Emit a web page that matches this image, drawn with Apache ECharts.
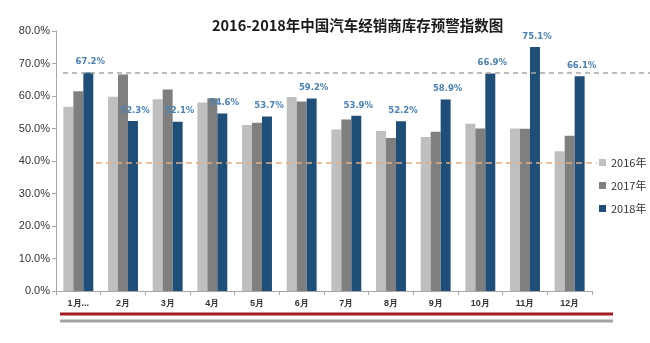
<!DOCTYPE html>
<html><head><meta charset="utf-8">
<script src="https://cdn.jsdelivr.net/npm/echarts@6/dist/echarts.min.js"></script>
<style>html,body{margin:0;padding:0;background:#fff}#c{width:650px;height:343px}</style>
</head><body><div id="c"></div>
<script>
var months = ['1月','2月','3月','4月','5月','6月','7月','8月','9月','10月','11月','12月'];
var tickLabels = ['1月...','2月','3月','4月','5月','6月','7月','8月','9月','10月','11月','12月'];
var yTicks = [0,10,20,30,40,50,60,70,80];
var s2016 = [56.7,59.8,59.0,58.0,51.1,59.7,49.7,49.2,47.4,51.5,50.0,43.0];
var s2017 = [61.5,66.6,62.0,59.3,51.8,58.3,52.8,47.1,49.0,50.0,49.9,47.8];
var s2018 = [67.2,52.3,52.1,54.6,53.7,59.2,53.9,52.2,58.9,66.9,75.1,66.1];
var warnHigh = 67.2;
var warnLow = 39.5;

var chart = echarts.init(document.getElementById('c'));
var gTop = 31, gBottom = 52;
chart.setOption({
  animation:false,
  title:{text:'2016-2018年中国汽车经销商库存预警指数图', left:207, top:13,
    textStyle:{fontSize:14.5, fontWeight:'bold', color:'#1a1a1a', fontFamily:'"Noto Sans CJK SC", sans-serif'}},
  legend:{orient:'vertical', left:594, top:152, itemWidth:7, itemHeight:7, itemGap:12,
    icon:'rect', textStyle:{fontSize:11, color:'#333', fontFamily:'"Noto Sans CJK SC", sans-serif'},
    data:['2016年','2017年','2018年']},
  grid:[
    {left:56, right:58, top:gTop, bottom:gBottom},
    {left:63, right:0, top:gTop, bottom:gBottom},
    {left:96, right:53, top:gTop, bottom:gBottom}
  ],
  xAxis:[
    {type:'category', gridIndex:0, data:months,
      axisLine:{lineStyle:{color:'#a6a6a6'}},
      axisTick:{show:true, length:4, lineStyle:{color:'#a6a6a6'}},
      axisLabel:{fontSize:9, fontWeight:'bold', color:'#333', margin:8,
        formatter:function(v,i){return tickLabels[i];}}},
    {type:'value', gridIndex:1, show:false, min:0, max:1},
    {type:'value', gridIndex:2, show:false, min:0, max:1}
  ],
  yAxis:[
    {type:'value', gridIndex:0, min:yTicks[0], max:yTicks[yTicks.length-1], interval:10,
      axisLine:{show:true, lineStyle:{color:'#a6a6a6'}},
      axisTick:{show:true, length:4, lineStyle:{color:'#a6a6a6'}},
      splitLine:{show:false},
      axisLabel:{fontSize:11, color:'#333', margin:6, formatter:function(v){return v.toFixed(1)+'%';}}},
    {type:'value', gridIndex:1, show:false, min:0, max:80},
    {type:'value', gridIndex:2, show:false, min:0, max:80}
  ],
  series:[
    {name:'2016年', type:'bar', data:s2016, barGap:'0%', barCategoryGap:'33%', itemStyle:{color:'#bfbfbf'}},
    {name:'2017年', type:'bar', data:s2017, barGap:'0%', barCategoryGap:'33%', itemStyle:{color:'#7f7f7f'}},
    {name:'2018年', type:'bar', data:s2018, barGap:'0%', barCategoryGap:'33%', itemStyle:{color:'#1f4e79'},
      label:{show:true, position:'top', distance:6, offset:[2,0], fontSize:8.5, fontWeight:'bold', color:'#4a82b4',
        fontFamily:'"DejaVu Sans", sans-serif',
        formatter:function(p){return p.value.toFixed(1)+'%';}}},
    {type:'line', xAxisIndex:1, yAxisIndex:1, data:[], silent:true,
      markLine:{symbol:'none', silent:true, label:{show:false},
        lineStyle:{color:'#a6a6a6', type:[5,4], width:1.5}, data:[{yAxis:warnHigh}]}},
    {type:'line', xAxisIndex:2, yAxisIndex:2, data:[], silent:true,
      markLine:{symbol:'none', silent:true, label:{show:false},
        lineStyle:{color:'#e3ac80', type:[6,4], width:1.5}, data:[{yAxis:warnLow}]}}
  ],
  graphic:[
    {type:'rect', shape:{x:60, y:312.5, width:553, height:3}, style:{fill:'#a51b22'}},
    {type:'rect', shape:{x:60, y:319.5, width:553, height:3}, style:{fill:'#a3a3a3'}}
  ]
});
</script></body></html>
